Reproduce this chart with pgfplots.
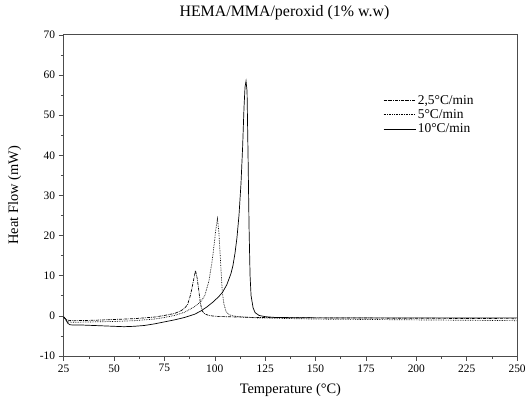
\documentclass[border=0pt]{standalone}
\usepackage{pgfplots}
\pgfplotsset{compat=1.18}
\usepackage{fontspec}
\setmainfont{Liberation Serif}

\begin{document}
\begin{tikzpicture}[x=1pt,y=1pt]
\path (0,0) rectangle (529,408);
\begin{axis}[
    at={(64pt,50pt)}, anchor=south west,
    scale only axis,
    width=456pt, height=323pt,
    xmin=25, xmax=250, ymin=-10, ymax=70,
    xtick={25,50,...,250}, ytick={-10,0,...,70},
    minor x tick num=1, minor y tick num=1,
    tick align=outside, xtick pos=left, ytick pos=left,
    major tick length=5pt, minor tick length=3pt,
    axis line style={line width=0.8pt, black!70},
    every tick/.style={black!70, line width=0.6pt},
    /pgf/number format/assume math mode=true,
    ticklabel style={font=\fontsize{11.5}{13}\selectfont},
    label style={font=\fontsize{14.5}{16}\selectfont},
    title style={font=\fontsize{16}{18}\selectfont, yshift=5pt, xshift=-6pt},
    title={HEMA/MMA/peroxid (1\% w.w)},
    xlabel={Temperature (°C)},
    ylabel={Heat Flow (mW)},
    xlabel style={yshift=-4pt},
    ylabel style={yshift=12pt},
    legend style={at={(0.698,0.825)}, anchor=north west, draw=none, fill=none,
        font=\fontsize{13.5}{15}\selectfont, row sep=0pt},
    legend cell align=left,
    legend image code/.code={\draw[#1] (0pt,0pt) -- (32pt,0pt);},
    every axis plot/.append style={line width=0.7pt, black},
]
% 2,5 C/min
\addplot[densely dash dot] coordinates {
(25,-0.2)(26,-0.8)(27,-1.1)(30,-1.2)(40,-1.1)(50,-0.9)(60,-0.7)(70,-0.3)(75,0.1)
(80,0.6)(83,1.2)(85,1.9)(86.5,2.8)(88,5.3)(89.3,8.5)(90.4,11.3)(91.2,9.5)(92,6.5)
(92.9,3)(93.8,1.2)(95,0.5)(97,0.1)(100,-0.1)(105,-0.2)(120,-0.4)(150,-0.5)(200,-0.6)(250,-0.7)
};
% 5 C/min
\addplot[densely dotted] coordinates {
(25,-0.3)(26,-1.0)(27,-1.5)(30,-1.6)(40,-1.5)(50,-1.4)(60,-1.2)(70,-0.8)(75,-0.4)
(80,0.1)(85,0.9)(90,2.3)(93,3.5)(95,5)(97,8.5)(98.5,13)(99.5,17)(100.5,21.5)(101.3,24.2)
(102,21)(102.8,14)(103.7,6.1)(104.5,3)(105.5,1.2)(107,0.3)(110,-0.1)(120,-0.5)
(150,-0.8)(200,-1.0)(250,-1.2)
};
% 10 C/min
\addplot[solid] coordinates {
(25,-0.3)(26,-0.8)(27,-1.8)(28,-2.2)(30,-2.3)(35,-2.3)(40,-2.4)(45,-2.5)(50,-2.6)
(55,-2.7)(60,-2.6)(65,-2.4)(70,-2.0)(75,-1.5)(80,-1.0)(85,-0.4)(90,0.4)(93,1.2)
(96,2.2)(99,3.4)(102,4.8)(104,6)(106,7.8)(108,10.5)(109,12.5)(110,15.5)(111,19.5)
(112,25)(113,33)(113.8,42)(114.5,52)(115,57)(115.5,58.5)(116,56)(116.5,40)(117,22)
(117.5,10)(118,5)(119,2)(120,0.8)(122,0.1)(125,-0.2)(130,-0.4)(150,-0.5)(200,-0.5)(250,-0.5)
};
\legend{{2,5°C/min}, {5°C/min}, {10°C/min}}
\end{axis}
\end{tikzpicture}
\end{document}
